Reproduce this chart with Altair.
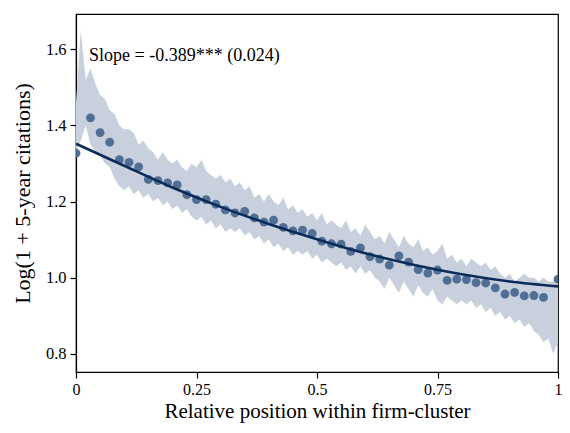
import altair as alt
import pandas as pd

# Binned means (dots)
dot_x = [0.0, 0.03, 0.05, 0.07, 0.09, 0.11, 0.13, 0.15, 0.17, 0.19, 0.21,
         0.23, 0.25, 0.27, 0.29, 0.31, 0.33, 0.35, 0.37, 0.39, 0.41,
         0.43, 0.45, 0.47, 0.49, 0.51, 0.53, 0.55, 0.57, 0.59, 0.61,
         0.63, 0.65, 0.67, 0.69, 0.71, 0.73, 0.75, 0.77, 0.79, 0.81,
         0.83, 0.85, 0.87, 0.89, 0.91, 0.93, 0.95, 0.97, 1.0]
dot_y = [1.327, 1.420, 1.381, 1.356, 1.310, 1.303, 1.291, 1.258, 1.255, 1.249, 1.244,
         1.218, 1.205, 1.205, 1.193, 1.178, 1.170, 1.174, 1.157, 1.146, 1.151,
         1.132, 1.123, 1.125, 1.116, 1.096, 1.089, 1.088, 1.069, 1.078, 1.055,
         1.049, 1.033, 1.057, 1.041, 1.021, 1.012, 1.020, 0.993, 0.996, 0.995,
         0.987, 0.986, 0.973, 0.957, 0.961, 0.952, 0.953, 0.948, 0.996]

# Fitted curve
fit_x = [0.0, 0.1, 0.2, 0.3, 0.4, 0.5, 0.6, 0.7, 0.8, 0.9, 1.0]
fit_y = [1.352, 1.294, 1.237, 1.186, 1.141, 1.101, 1.064, 1.034, 1.009, 0.990, 0.977]

# Confidence band, x = 0.00 .. 1.00 by 0.01
band_x = [i / 100 for i in range(101)]
band_hi = [1.46, 1.65, 1.52, 1.55, 1.51, 1.48, 1.47, 1.44, 1.43, 1.40,
           1.39, 1.39, 1.38, 1.35, 1.36, 1.34, 1.33, 1.31, 1.33, 1.31,
           1.30, 1.31, 1.29, 1.28, 1.30, 1.29, 1.31, 1.28, 1.27, 1.26,
           1.27, 1.25, 1.26, 1.24, 1.25, 1.23, 1.24, 1.21, 1.22, 1.20,
           1.22, 1.20, 1.19, 1.21, 1.18, 1.19, 1.17, 1.18, 1.16, 1.17,
           1.15, 1.17, 1.14, 1.15, 1.14, 1.13, 1.15, 1.12, 1.13, 1.11,
           1.14, 1.12, 1.10, 1.11, 1.09, 1.12, 1.10, 1.08, 1.11, 1.09,
           1.08, 1.10, 1.07, 1.08, 1.06, 1.07, 1.09, 1.05, 1.06, 1.04,
           1.05, 1.03, 1.05, 1.04, 1.03, 1.04, 1.02, 1.03, 1.01, 1.00,
           1.01, 0.99, 1.00, 1.01, 1.00, 1.00, 0.99, 1.00, 0.99, 0.99,
           1.00]
band_lo = [1.33, 1.36, 1.40, 1.35, 1.33, 1.32, 1.30, 1.29, 1.26, 1.24,
           1.23, 1.24, 1.22, 1.23, 1.21, 1.22, 1.20, 1.21, 1.19, 1.20,
           1.18, 1.19, 1.17, 1.18, 1.16, 1.15, 1.16, 1.14, 1.15, 1.13,
           1.14, 1.12, 1.13, 1.12, 1.13, 1.11, 1.12, 1.10, 1.11, 1.09,
           1.10, 1.08, 1.09, 1.07, 1.08, 1.06, 1.07, 1.06, 1.07, 1.05,
           1.06, 1.04, 1.05, 1.04, 1.03, 1.04, 1.02, 1.03, 1.01, 1.03,
           1.01, 1.02, 1.00, 0.99, 0.97, 1.00, 0.98, 0.96, 0.99, 0.97,
           0.95, 0.98, 0.96, 0.95, 0.97, 0.94, 0.93, 0.95, 0.94, 0.93,
           0.94, 0.93, 0.94, 0.92, 0.93, 0.91, 0.92, 0.90, 0.91, 0.89,
           0.90, 0.88, 0.89, 0.87, 0.88, 0.86, 0.85, 0.83, 0.84, 0.80,
           0.83]

x_ticks = [0, 0.25, 0.5, 0.75, 1]
y_ticks = [0.8, 1.0, 1.2, 1.4, 1.6]
annotation = "Slope = -0.389*** (0.024)"

dots = pd.DataFrame({"x": dot_x, "y": dot_y})
fit = pd.DataFrame({"x": fit_x, "y": fit_y})
band = pd.DataFrame({"x": band_x, "hi": band_hi, "lo": band_lo})
note = pd.DataFrame({"x": [0.027], "y": [1.583], "t": [annotation]})

FONT = "Liberation Serif"
xs = alt.Scale(domain=[0, 1], nice=False, zero=False)
ys = alt.Scale(domain=[0.752, 1.693], nice=False, zero=False)

x_axis = alt.Axis(values=x_ticks, labelExpr="format(datum.value, '')",
                  title="Relative position within firm-cluster",
                  grid=False, tickSize=6, labelPadding=3, titlePadding=3,
                  labelFontSize=16, titleFontSize=21, labelFlush=False)
y_axis = alt.Axis(values=y_ticks, format=".1f",
                  title="Log(1 + 5-year citations)",
                  grid=False, tickSize=6, labelPadding=4, titlePadding=11,
                  labelFontSize=16.5, titleFontSize=22)

area = alt.Chart(band).mark_area(color="#c7d0dc", opacity=1, clip=True).encode(
    x=alt.X("x:Q", scale=xs, axis=x_axis),
    y=alt.Y("hi:Q", scale=ys, axis=y_axis),
    y2="lo:Q",
)

pts = alt.Chart(dots).mark_circle(size=78, color="#4b6890", opacity=0.95, clip=True).encode(
    x=alt.X("x:Q", scale=xs),
    y=alt.Y("y:Q", scale=ys),
)

line = alt.Chart(fit).mark_line(color="#0b2b59", strokeWidth=2.6,
                                interpolate="monotone", clip=True).encode(
    x=alt.X("x:Q", scale=xs),
    y=alt.Y("y:Q", scale=ys),
)

txt = alt.Chart(note).mark_text(align="left", baseline="middle", fontSize=18,
                                font=FONT, color="black").encode(
    x=alt.X("x:Q", scale=xs),
    y=alt.Y("y:Q", scale=ys),
    text="t:N",
)

chart = alt.layer(area, pts, line, txt).properties(
    width=482, height=358,
    autosize=alt.AutoSizeParams(type="none"),
    padding={"left": 68, "top": 6, "right": 4, "bottom": 53},
    background="white",
).configure_view(
    stroke="black", strokeWidth=1.2,
).configure_axis(
    labelFont=FONT, titleFont=FONT, labelColor="black", titleColor="black",
    domainColor="black", tickColor="black", domainWidth=1.2, tickWidth=1.2,
    titleFontWeight="normal",
)

chart.save("out.html", embed_options={"renderer": "svg", "actions": False})
